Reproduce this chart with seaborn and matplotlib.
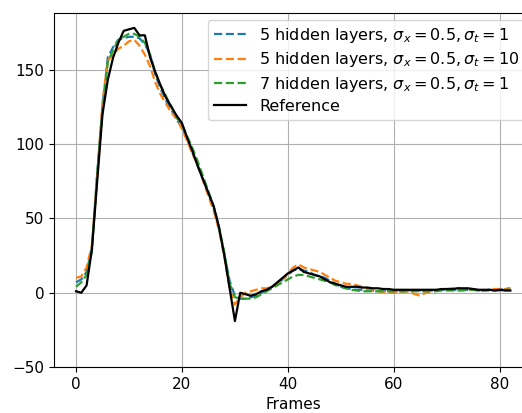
import numpy as np
import pandas as pd
import matplotlib
matplotlib.use("Agg")
import matplotlib.pyplot as plt
import seaborn as sns

frames = np.arange(83)

reference = [1, 0, 5, 29, 75, 120, 143, 158, 168, 176,
             177, 178, 173, 173, 158, 148, 139, 131, 125, 119,
             114, 104, 95, 85, 76, 67, 58, 44, 25, 3,
             -19, 0, -1, -2, -1, 1, 2, 4, 7, 10,
             13, 15, 17, 14, 13, 12, 11, 9, 7, 6,
             5, 4, 4, 4, 3.5, 3.5, 3, 3, 2.5, 2.5,
             2, 2, 2, 2, 2, 2, 2, 2, 2, 2.5,
             2.5, 2.5, 3, 3, 3, 2.5, 2, 2, 2, 1.5,
             2, 1.5, 1.5]

h5_st1 = [7, 9, 14, 30, 80, 125, 158, 165, 170, 171,
          172, 172, 171, 167, 160, 146, 137, 129, 123, 116,
          112, 103, 94, 85, 76, 67, 57, 43, 26, 8,
          -2, -4, -4, -3, -2, 0, 2, 4, 6, 9,
          12, 15, 16, 15, 14, 12, 11, 10, 8, 6,
          4, 3, 2.5, 2, 2, 1.5, 1.5, 1, 1, 1,
          1, 1, 1, 1.5, 1.5, 1.5, 1.5, 1.5, 1.5, 2,
          2, 2, 2, 2, 2, 2, 1.5, 1.5, 2, 2,
          2, 2.5, 3]

h5_st10 = [10, 11, 17, 32, 78, 128, 156, 160, 164, 166,
           169, 170, 166, 160, 152, 141, 133, 127, 121, 117,
           110, 102, 93, 86, 75, 65, 55, 42, 24, 3,
           -8, -3, 0, 1, 2, 3, 3, 4, 6, 9,
           13, 17, 19, 17, 16, 15, 14, 12, 10, 8,
           7, 6, 6, 5, 4, 3, 2, 1, 0.5, 0,
           0, 0.5, 1, 0.5, -1, -2, 0, 1, 1.5, 2,
           2.5, 3, 3, 2.5, 2, 2, 2, 1.5, 2, 2.5,
           2.5, 2.5, 3]

h7_st1 = [4, 7, 12, 28, 80, 122, 155, 163, 170, 172,
          174, 174, 172, 168, 160, 148, 139, 132, 125, 118,
          113, 105, 97, 88, 78, 68, 58, 44, 27, 6,
          -3, -4, -4, -4, -3, -1, 1, 3, 5, 7,
          9, 11, 12, 12, 11, 10, 9, 8, 7, 5,
          4, 3, 2, 1.5, 1, 1, 1, 1, 1, 1,
          1, 1, 1, 1, 1, 1, 1, 1, 1, 1.5,
          1.5, 1.5, 1.5, 1.5, 2, 2, 1.5, 1.5, 1.5, 1.5,
          1.5, 2, 2]

plt.rcParams['font.size'] = 11

fig = plt.figure(figsize=(5.22, 4.13), dpi=100)
ax = fig.add_axes([0.104, 0.111, 0.9153, 0.857])

sns.lineplot(x=frames, y=h5_st1, ax=ax, color='tab:blue', linestyle='--', lw=1.6,
             label=r'5 hidden layers, $\sigma_x = 0.5, \sigma_t = 1$')
sns.lineplot(x=frames, y=h5_st10, ax=ax, color='tab:orange', linestyle='--', lw=1.6,
             label=r'5 hidden layers, $\sigma_x = 0.5, \sigma_t = 10$')
sns.lineplot(x=frames, y=h7_st1, ax=ax, color='tab:green', linestyle='--', lw=1.6,
             label=r'7 hidden layers, $\sigma_x = 0.5, \sigma_t = 1$')
sns.lineplot(x=frames, y=reference, ax=ax, color='black', lw=1.6, label='Reference')

ax.set_ylim(bottom=-50)
ax.grid(True)
ax.set_xlabel('Frames')
ax.legend(loc='upper right', fontsize=11.5, borderaxespad=0.4, labelspacing=0.33)

fig.savefig('out.png', dpi=100)
